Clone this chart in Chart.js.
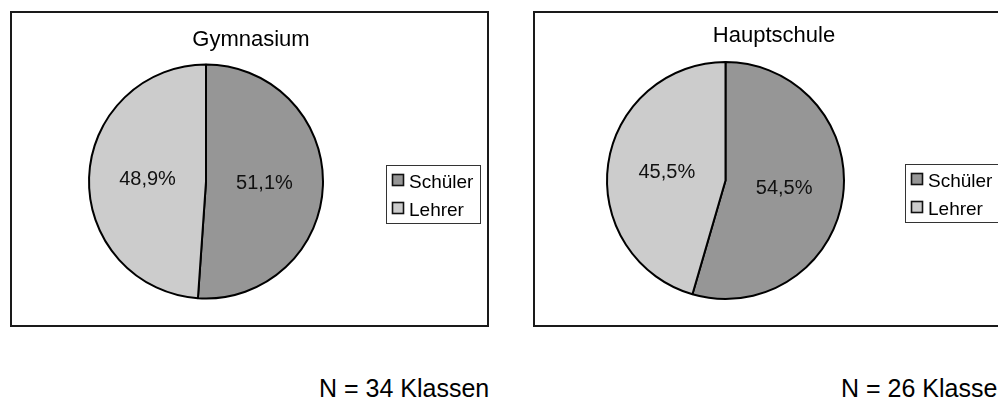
<!DOCTYPE html>
<html>
<head>
<meta charset="utf-8">
<script src="https://cdn.jsdelivr.net/npm/chart.js@4/dist/chart.umd.min.js"></script>
<style>
  html, body { margin: 0; padding: 0; background: #fff; }
  body { width: 998px; height: 399px; position: relative; overflow: hidden; font-family: Arial, "Liberation Sans", sans-serif; }
  .box { position: absolute; top: 11px; width: 479px; height: 316px; box-sizing: border-box; border: 2px solid #1a1a1a; background: #fff; }
  .box canvas { position: absolute; left: -2px; top: -2px; }
  .footer { position: absolute; top: 376px; font-size: 25px; line-height: 25px; color: #000; white-space: nowrap; }
</style>
</head>
<body>
<div class="box" style="left:10px"><canvas id="gym" width="479" height="316"></canvas></div>
<div class="box" style="left:533px"><canvas id="haupt" width="479" height="316"></canvas></div>
<div class="footer" id="footGym" style="left:319px"></div>
<div class="footer" id="footHaupt" style="left:841px"></div>
<script>
// Anteile (Prozent) je Schulform
const categories = ['Schüler', 'Lehrer'];
const gymnasiumValues = [51.1, 48.9];
const hauptschuleValues = [54.5, 45.5];
const chartTitles = ['Gymnasium', 'Hauptschule'];
const footnotes = ['N = 34 Klassen', 'N = 26 Klassen'];
const sliceColors = ['#969696', '#cccccc'];

document.getElementById('footGym').textContent = footnotes[0];
document.getElementById('footHaupt').textContent = footnotes[1];

const fmt = v => v.toFixed(1).replace('.', ',') + '%';

// Title, slice labels and legend box drawn onto the chart canvas
const decorations = {
  id: 'decorations',
  afterDatasetsDraw(chart, args, opts) {
    const ctx = chart.ctx;
    const ds = chart.data.datasets[0];
    const meta = chart.getDatasetMeta(0);
    ctx.save();
    // slice value labels
    ctx.fillStyle = '#111';
    ctx.font = '20px Arial, "Liberation Sans", sans-serif';
    ctx.textAlign = 'center';
    ctx.textBaseline = 'middle';
    meta.data.forEach((arc, i) => {
      const p = arc.getCenterPoint();
      ctx.fillText(fmt(ds.data[i]), p.x, p.y);
    });
    // title
    ctx.font = '22px Arial, "Liberation Sans", sans-serif';
    ctx.fillStyle = '#000';
    ctx.fillText(opts.title, opts.titleX, opts.titleY);
    // legend
    const lx = opts.legendX, ly = opts.legendY;
    ctx.fillStyle = '#fff';
    ctx.fillRect(lx, ly, 94, 58);
    ctx.strokeStyle = '#333';
    ctx.lineWidth = 1;
    ctx.strokeRect(lx + 0.5, ly + 0.5, 94, 58);
    ctx.font = '19px Arial, "Liberation Sans", sans-serif';
    ctx.textAlign = 'left';
    ctx.textBaseline = 'alphabetic';
    chart.data.labels.forEach((lab, i) => {
      const yy = ly + 9 + i * 28;
      ctx.fillStyle = ds.backgroundColor[i];
      ctx.fillRect(lx + 6.5, yy + 0.5, 11, 11);
      ctx.strokeStyle = '#111';
      ctx.lineWidth = 1.6;
      ctx.strokeRect(lx + 6.5, yy + 0.5, 11, 11);
      ctx.fillStyle = '#000';
      ctx.fillText(lab, lx + 23, yy + 14);
    });
    ctx.restore();
  }
};

function makePie(id, values, title, pad, radius, deco) {
  return new Chart(document.getElementById(id), {
    type: 'pie',
    data: {
      labels: categories,
      datasets: [{
        data: values,
        backgroundColor: sliceColors,
        borderColor: '#000',
        borderWidth: 2,
        radius: radius
      }]
    },
    options: {
      responsive: false,
      animation: false,
      rotation: 0,
      layout: { padding: pad },
      plugins: {
        legend: { display: false },
        tooltip: { enabled: false },
        decorations: Object.assign({ title: title }, deco)
      }
    },
    plugins: [decorations]
  });
}

makePie('gym', gymnasiumValues, chartTitles[0],
  { left: 22, right: 109, top: 47, bottom: 22 }, 117,
  { titleX: 241, titleY: 29, legendX: 376, legendY: 154 });
makePie('haupt', hauptschuleValues, chartTitles[1],
  { left: 22, right: 116, top: 45, bottom: 22 }, 118.5,
  { titleX: 241, titleY: 25, legendX: 372, legendY: 153 });
</script>
</body>
</html>
